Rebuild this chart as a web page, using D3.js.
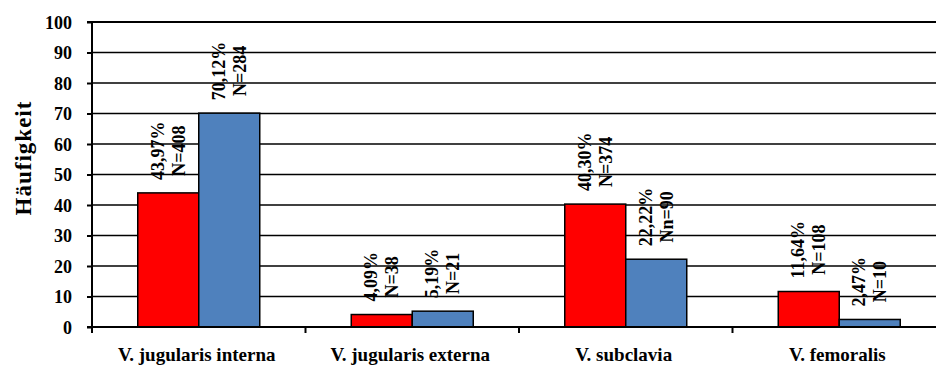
<!DOCTYPE html>
<html>
<head>
<meta charset="utf-8">
<script src="https://cdn.jsdelivr.net/npm/d3@7"></script>
<style>
  html, body { margin: 0; padding: 0; background: #fff; }
  svg { display: block; }
  text { font-family: "Liberation Serif", "Times New Roman", serif; font-weight: bold; fill: #000; }
</style>
</head>
<body>
<svg id="chart" width="936" height="371"></svg>
<script>
const categories = ["V. jugularis interna", "V. jugularis externa", "V. subclavia", "V. femoralis"];
const seriesNames = ["A", "B"];
const valuesA = [43.97, 4.09, 40.30, 11.64];
const valuesB = [70.12, 5.19, 22.22, 2.47];
const labelsA1 = ["43,97%", "4,09%", "40,30%", "11,64%"];
const labelsA2 = ["N=408", "N=38", "N=374", "N=108"];
const labelsB1 = ["70,12%", "5,19%", "22,22%", "2,47%"];
const labelsB2 = ["N=284", "N=21", "Nn=90", "N=10"];
const yTicks = [0, 10, 20, 30, 40, 50, 60, 70, 80, 90, 100];
const colors = ["#ff0000", "#4f81bd"];

const svg = d3.select("#chart");
const mLeft = 92, mTop = 22, mBottom = 327, mRight = 946;

const y = d3.scaleLinear().domain([0, 100]).range([mBottom, mTop]);
const x0 = d3.scaleBand().domain(categories).range([mLeft, mRight]).padding(0);
const x1 = d3.scaleBand().domain(seriesNames).range([0, x0.bandwidth()]).paddingInner(0).paddingOuter(0.75);

// gridlines
svg.append("g").selectAll("line").data(yTicks.filter(d => d > 0)).join("line")
  .attr("x1", mLeft).attr("x2", 936)
  .attr("y1", d => y(d)).attr("y2", d => y(d))
  .attr("stroke", "#000").attr("stroke-width", d => d === 100 ? 2 : 1.4);

// bars
const data = [];
categories.forEach((c, i) => {
  data.push({c, s: "A", v: valuesA[i], l1: labelsA1[i], l2: labelsA2[i], col: colors[0]});
  data.push({c, s: "B", v: valuesB[i], l1: labelsB1[i], l2: labelsB2[i], col: colors[1]});
});

svg.append("g").selectAll("rect").data(data).join("rect")
  .attr("x", d => x0(d.c) + x1(d.s))
  .attr("y", d => y(d.v))
  .attr("width", x1.bandwidth())
  .attr("height", d => y(0) - y(d.v))
  .attr("fill", d => d.col)
  .attr("stroke", "#000").attr("stroke-width", 1.5);

// y axis
const yAxis = d3.axisLeft(y).tickValues(yTicks).tickSize(5).tickPadding(15);
const gy = svg.append("g").attr("transform", `translate(${mLeft},0)`).call(yAxis);
gy.select(".domain").attr("stroke", "#000").attr("stroke-width", 2).attr("d", `M-5,${mTop}H0V${mBottom}H-5`);
gy.selectAll(".tick line").attr("stroke", "#000").attr("stroke-width", 2);
gy.selectAll(".tick text").style("font-size", "18px").style("font-family", "Liberation Serif, serif").style("font-weight", "bold").attr("fill", "#000").attr("dy", "0.34em");

// x axis baseline
svg.append("line").attr("x1", mLeft).attr("x2", 936).attr("y1", mBottom).attr("y2", mBottom)
  .attr("stroke", "#000").attr("stroke-width", 2);
// category ticks
svg.append("g").selectAll("line").data(categories).join("line")
  .attr("x1", d => x0(d)).attr("x2", d => x0(d))
  .attr("y1", mBottom).attr("y2", mBottom + 6)
  .attr("stroke", "#000").attr("stroke-width", 2);

// category labels
svg.append("g").selectAll("text").data(categories).join("text")
  .attr("x", d => x0(d) + x0.bandwidth() / 2 - 2)
  .attr("y", 361)
  .attr("text-anchor", "middle")
  .style("font-size", "19px")
  .text(d => d);

// data labels
const lab = svg.append("g").selectAll("g").data(data).join("g");
lab.each(function(d) {
  const g = d3.select(this);
  const cx = x0(d.c) + x1(d.s) + x1.bandwidth() / 2;
  const t1 = g.append("text").attr("text-anchor", "middle").style("font-size", "18px").attr("y", -4.5).text(d.l1);
  const t2 = g.append("text").attr("text-anchor", "middle").style("font-size", "18px").attr("y", 16.5).text(d.l2);
  const len = Math.max(t1.node().getComputedTextLength(), t2.node().getComputedTextLength());
  const cy = y(d.v) - 13 - len / 2;
  g.attr("transform", `translate(${cx},${cy}) rotate(-90)`);
});

// y axis title
svg.append("text")
  .attr("transform", `translate(31,158) rotate(-90)`)
  .attr("text-anchor", "middle")
  .style("font-size", "23px")
  .style("letter-spacing", "1px")
  .text("Häufigkeit");
</script>
</body>
</html>
